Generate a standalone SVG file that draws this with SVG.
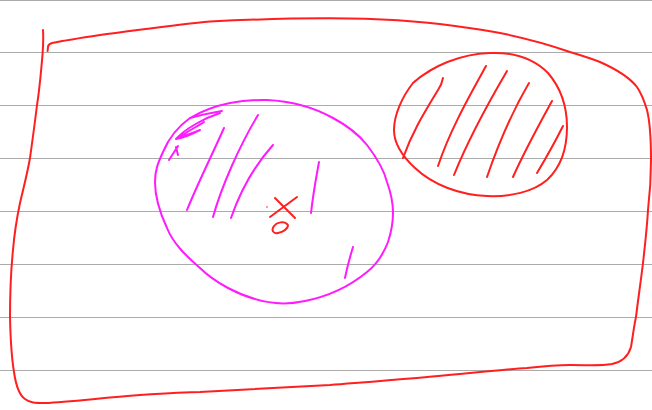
<svg xmlns="http://www.w3.org/2000/svg" width="652" height="410" viewBox="0 0 652 410">
<style>
.rule{stroke:#ababab;stroke-width:1.2;fill:none}
.red{stroke:#ff1f1f;stroke-width:2;fill:none;stroke-linecap:round;stroke-linejoin:round}
.mag{stroke:#ff1aff;stroke-width:2;fill:none;stroke-linecap:round;stroke-linejoin:round}
</style>
<rect width="652" height="410" fill="#ffffff"/>
<g id="paper-lines">
<line class="rule" x1="0" y1="0.5" x2="652" y2="0.5"/>
<line class="rule" x1="0" y1="52.5" x2="652" y2="52.5"/>
<line class="rule" x1="0" y1="105.5" x2="652" y2="105.5"/>
<line class="rule" x1="0" y1="158.5" x2="652" y2="158.5"/>
<line class="rule" x1="0" y1="211.5" x2="652" y2="211.5"/>
<line class="rule" x1="0" y1="264.5" x2="652" y2="264.5"/>
<line class="rule" x1="0" y1="317.5" x2="652" y2="317.5"/>
<line class="rule" x1="0" y1="370.5" x2="652" y2="370.5"/>
</g>
<g id="outer-region">
<path class="red" d="M43,30 C43.5,38 43.2,46 42.5,55 C41,72 39.5,90 37,105 C35,122 32.5,140 30,158 C27,175 23,190 20,203 C16,222 14,238 13,250 C11,270 10,295 10,317 C10.5,340 12,360 14,372 C16,386 19,395 25,399 C30,403 35,403 45,403 C70,402 100,398 140,395 C170,393 190,392 200,392 C250,389 290,387 330,385 C380,381 420,378 460,374 C490,371 510,369 527,368 C545,366 555,365 570,365 C590,365 600,366 612,364 C622,362 628,357 631,347 C633,335 634,326 636,317 C638,300 641,280 643,263 C645,245 647,228 648,210 C650,193 651,177 651,160 C651,140 650,122 647,110 C644,100 641,93 637,87 C630,78 618,70 600,62 C590,58 580,55 570,52 C550,45 525,38 500,33 C485,30 470,28 455,26 C420,21 380,18.5 330,18.3 C290,18.2 250,19.5 210,21.5 C180,24 140,30 100,35 C80,38 62,41 52,43 C49,44 48,45 48,47 L47.6,51"/>
</g>
<g id="pink-region">
<path class="mag" d="M190,118 C202,111 215,106 230,103 C243,100.5 255,99.8 267,100 C290,101 313,107 333,118 C348,126 359,135 367,145 C377,158 384,170 387,182 C391,193 393,203 393,213 C393,223 391,233 388,242 C383,255 376,265 367,272 C350,286 330,296 305,301 C295,303 288,303.5 283,303.5 C265,303 245,297 228,288 C215,281 207,275 200,268 C185,255 173,243 167,228 C160,213 155,198 155,182 C155,170 158,163 163,152 C168,140 176,128 190,118 C200,115 210,113 222,111"/>
<path class="mag" d="M220,113 C205,118 186,128 176,139 C183,138 194,133 200,130 C192,133 185,136 180,137 C188,131 198,126 204,122 M178,146 L169,160 M176,147 L178,155"/>
<path class="mag" d="M187,210 C197,185 212,155 224,128"/>
<path class="mag" d="M213,217 C222,185 240,145 258,115"/>
<path class="mag" d="M231,218 C240,192 255,165 273,145"/>
<path class="mag" d="M311,213 C313,195 316,178 319,162"/>
<path class="mag" d="M345,278 C347,268 350,257 353,247"/>
</g>
<g id="red-region">
<path class="red" d="M413,83 C432,66 460,54 490,53 C515,52 535,60 548,73 C560,87 567,105 567,127 C567,150 560,168 547,180 C533,192 510,197 487,196 C460,195 433,185 415,168 C402,156 394,143 394,130 C394,115 402,97 413,83 C418,78 425,74 430,71"/>
<path class="red" d="M443,78 C442,83 441,86 438,90 C426,110 413,130 403,158"/>
<path class="red" d="M486,66 C470,95 450,130 438,166"/>
<path class="red" d="M507,71 C490,100 468,140 454,175"/>
<path class="red" d="M529,83 C512,112 498,145 487,177"/>
<path class="red" d="M552,101 C540,123 525,150 513,177"/>
<path class="red" d="M563,126 C555,142 546,158 537,173"/>
</g>
<g id="point-x0">
<path class="red" d="M275,198 L295,218 M270,217 L297,197"/>
<circle cx="267" cy="207" r="0.8" fill="#ff1f1f"/>
<path class="red" d="M287,224 C284,221 277,222 274,226 C271,230 273,234 278,233 C283,232 288,229 288,225"/>
</g>
</svg>
